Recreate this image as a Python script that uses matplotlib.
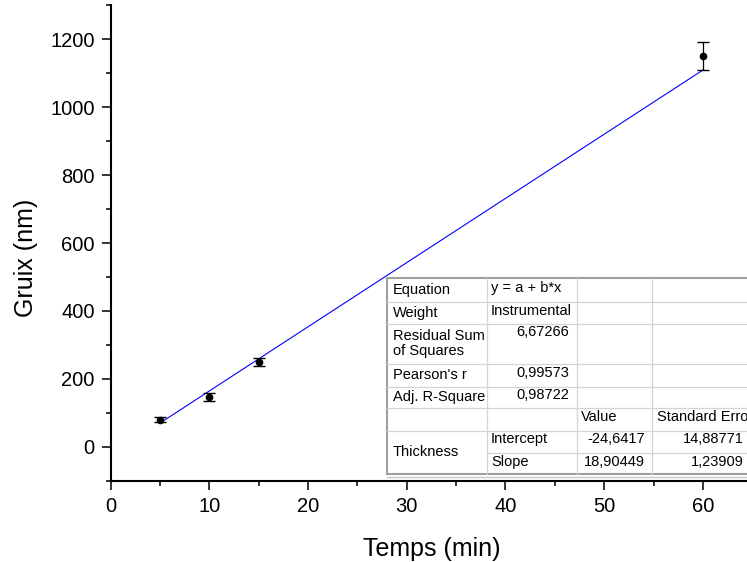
import matplotlib
matplotlib.use("Agg")
import matplotlib.pyplot as plt
from matplotlib.ticker import MultipleLocator
from matplotlib.patches import Rectangle

plt.rcParams['font.family'] = ['Liberation Sans', 'DejaVu Sans']

# data
temps = [5, 10, 15, 60]
gruix = [80, 146, 249, 1151]
gruix_err = [8, 12, 12, 40]

# fit results shown in the table
fit_a = -24.6417
fit_b = 18.90449
row_labels = ["Equation", "Weight", "Residual Sum\nof Squares", "Pearson's r", "Adj. R-Square"]
row_values = ["y = a + b*x", "Instrumental", "6,67266", "0,99573", "0,98722"]
col_headers = ["Value", "Standard Error"]
group_name = "Thickness"
param_names = ["Intercept", "Slope"]
param_values = ["-24,6417", "18,90449"]
param_errors = ["14,88771", "1,23909"]

W, H = 747, 562
fig = plt.figure(figsize=(W / 100, H / 100), dpi=100)
ax = fig.add_axes([110.7 / W, 1 - 480.7 / H, 1 - 110.7 / W, (480.7 - 5.4) / H])

xs = [min(temps), max(temps)]
ax.plot(xs, [fit_a + fit_b * x for x in xs], color='#0000ff', lw=0.8, zorder=2)
ax.errorbar(temps, gruix, yerr=gruix_err, fmt='o', color='black', ms=4.5,
            ecolor='black', elinewidth=0.9, capsize=4, capthick=1, zorder=3)

ax.set_xlim(0, (W - 110.7) / 9.87)
ax.set_ylim(-100, 1300)
ax.xaxis.set_major_locator(MultipleLocator(10))
ax.xaxis.set_minor_locator(MultipleLocator(5))
ax.yaxis.set_major_locator(MultipleLocator(200))
ax.yaxis.set_minor_locator(MultipleLocator(100))
for s in ['top', 'right']:
    ax.spines[s].set_visible(False)
for s in ['left', 'bottom']:
    ax.spines[s].set_linewidth(1.5)
ax.tick_params(which='major', length=6.5, width=1.1, labelsize=14.5, pad=5)
ax.tick_params(which='minor', length=3.6, width=1.1)
ax.set_xlabel("Temps (min)", fontsize=18)
ax.set_ylabel("Gruix (nm)", fontsize=18)
ax.xaxis.set_label_coords(0.505, -0.118)
ax.yaxis.set_label_coords(-0.115, 0.468)

# fit table drawn in pixel coordinates
tab = fig.add_axes([0, 0, 1, 1], zorder=5)
tab.set_xlim(0, W)
tab.set_ylim(H, 0)
tab.axis('off')

cx = [386.7, 486.7, 576.7, 651.7, 760]
ry = [278.3, 301.7, 324, 364.3, 386.7, 408.3, 431, 452.7, 474]
tab.add_patch(Rectangle((cx[0], ry[0]), cx[-1] - cx[0], ry[-1] - ry[0],
                        facecolor='white', edgecolor='#a0a0a0', lw=1.5))
inner = '#d4d4d4'
for y in ry[1:7]:
    tab.plot([cx[0], cx[-1]], [y, y], color=inner, lw=0.9)
tab.plot([cx[1], cx[-1]], [ry[7], ry[7]], color=inner, lw=0.9)
for x in cx[1:4]:
    tab.plot([x, x], [ry[0], ry[-1]], color=inner, lw=0.9)
tab.plot([cx[0], cx[-1]], [ry[-1] + 3, ry[-1] + 3], color='#c8c8c8', lw=1)

fs = 10.5
label_y = [290, 312.7, 343.3, 375, 396.7]
value_y = [288.3, 310.7, 332.3, 373.3, 395]
for i, lab in enumerate(row_labels):
    tab.text(392.7, label_y[i], lab, fontsize=fs, va='center', ha='left',
             linespacing=1.05)
    v = row_values[i]
    if v[0].isdigit():
        tab.text(569, value_y[i], v, fontsize=fs, va='center', ha='right')
    else:
        tab.text(491, value_y[i], v, fontsize=fs, va='center', ha='left')
tab.text(581, 417.3, col_headers[0], fontsize=fs, va='center', ha='left')
tab.text(656.7, 417.3, col_headers[1], fontsize=fs, va='center', ha='left')
tab.text(392.7, 452.3, group_name, fontsize=fs, va='center', ha='left')
for i, yy in enumerate([439.3, 461.7]):
    tab.text(491, yy, param_names[i], fontsize=fs, va='center', ha='left')
    tab.text(645, yy, param_values[i], fontsize=fs, va='center', ha='right')
    tab.text(744, yy, param_errors[i], fontsize=fs, va='center', ha='right')

fig.savefig("out.png", dpi=100)
